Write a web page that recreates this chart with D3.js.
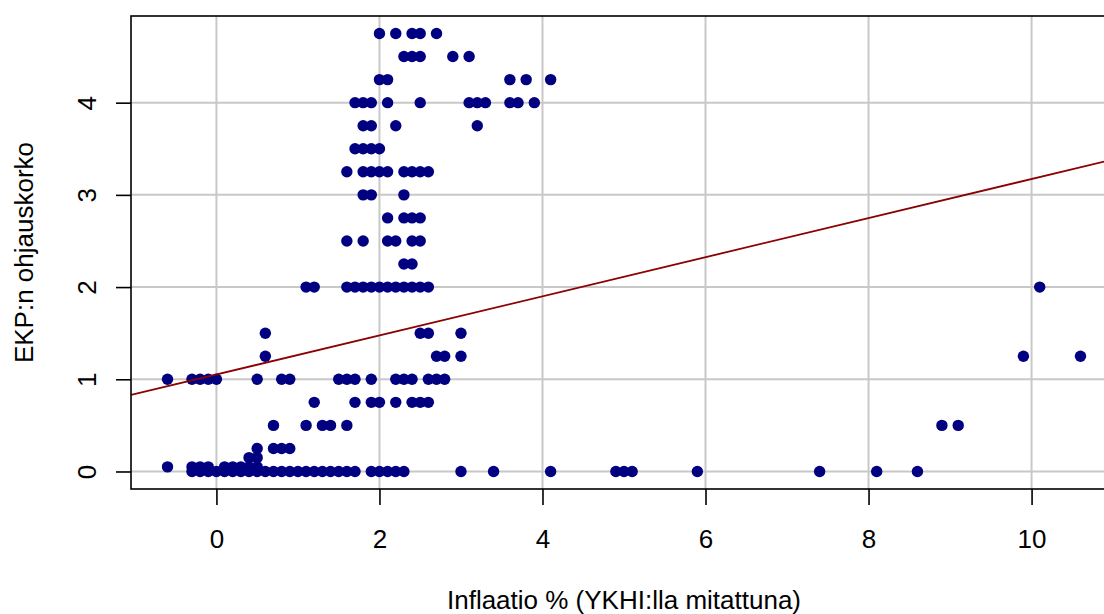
<!DOCTYPE html>
<head>
    <meta charset="utf-8">
    <script src="https://d3js.org/d3.v7.min.js"></script>
    <style>
        body { margin: 0; background: #fff; }
        text { font-family: "Liberation Sans", Arial, sans-serif; }
    </style>
</head>

<body>
    <div id="scatter"></div>
</body>

<script>
    // ECB policy rate levels and the inflation readings seen at each level
    const rateLevels = [4.75, 4.5, 4.25, 4.0, 3.75, 3.5, 3.25, 3.0, 2.75, 2.5, 2.25, 2.0,
                        1.5, 1.25, 1.0, 0.75, 0.5, 0.25, 0.15, 0.05, 0.0];
    const inflationAtLevel = [
        [2.0, 2.2, 2.4, 2.5, 2.7],
        [2.3, 2.4, 2.5, 2.9, 3.1],
        [2.0, 2.1, 3.6, 3.8, 4.1],
        [1.7, 1.8, 1.9, 2.1, 2.5, 3.1, 3.2, 3.3, 3.6, 3.7, 3.9],
        [1.8, 1.9, 2.2, 3.2],
        [1.7, 1.8, 1.9, 2.0],
        [1.6, 1.8, 1.9, 2.0, 2.1, 2.3, 2.4, 2.5, 2.6],
        [1.8, 1.9, 2.3],
        [2.1, 2.3, 2.4, 2.5],
        [1.6, 1.8, 2.1, 2.2, 2.4, 2.5],
        [2.3, 2.4],
        [1.1, 1.2, 1.6, 1.7, 1.8, 1.9, 2.0, 2.1, 2.2, 2.3, 2.4, 2.5, 2.6, 10.1],
        [0.6, 2.5, 2.6, 3.0],
        [0.6, 2.7, 2.8, 3.0, 9.9, 10.6],
        [-0.6, -0.3, -0.2, -0.1, 0.0, 0.5, 0.8, 0.9, 1.5, 1.6, 1.7, 1.9, 2.2, 2.3, 2.4, 2.6, 2.7, 2.8],
        [1.2, 1.7, 1.9, 2.0, 2.2, 2.4, 2.5, 2.6],
        [0.7, 1.1, 1.3, 1.4, 1.6, 8.9, 9.1],
        [0.5, 0.7, 0.8, 0.9],
        [0.4, 0.5],
        [-0.6, -0.3, -0.2, -0.1, 0.1, 0.2, 0.3, 0.4, 0.5],
        [-0.3, -0.2, -0.1, 0.0, 0.1, 0.2, 0.3, 0.4, 0.5, 0.6, 0.7, 0.8, 0.9, 1.0, 1.1, 1.2,
         1.3, 1.4, 1.5, 1.6, 1.7, 1.9, 2.0, 2.1, 2.2, 2.3, 3.0, 3.4, 4.1, 4.9, 5.0, 5.1,
         5.9, 7.4, 8.1, 8.6]
    ];
    const xTicks = [0, 2, 4, 6, 8, 10];
    const yTicks = [0, 1, 2, 3, 4];
    // lm fit line (abline)
    const fitIntercept = 1.052;
    const fitSlope = 0.212;

    const data = [];
    rateLevels.forEach((r, i) => {
        inflationAtLevel[i].forEach(v => data.push({inflation: v, rate: r}));
    });

    const W = 1104, H = 614;
    const plot = {left: 131, right: 1117, top: 16, bottom: 489};
    const fontSize = "26px";

    // R style 4% axis expansion
    const xExt = d3.extent(data, d => d.inflation);
    const yExt = d3.extent(data, d => d.rate);
    const xPad = (xExt[1] - xExt[0]) * 0.04, yPad = (yExt[1] - yExt[0]) * 0.04;

    const x = d3.scaleLinear()
        .domain([xExt[0] - xPad, xExt[1] + xPad])
        .range([plot.left, plot.right]);
    const y = d3.scaleLinear()
        .domain([yExt[0] - yPad, yExt[1] + yPad])
        .range([plot.bottom, plot.top]);

    const svg = d3.select("#scatter")
        .append("svg")
        .attr("width", W)
        .attr("height", H);

    svg.append("clipPath").attr("id", "clip")
        .append("rect")
        .attr("x", plot.left).attr("y", plot.top)
        .attr("width", plot.right - plot.left).attr("height", plot.bottom - plot.top);

    // Grid
    svg.append("g")
        .selectAll("line")
        .data(xTicks)
        .join("line")
        .attr("x1", d => x(d)).attr("x2", d => x(d))
        .attr("y1", plot.top).attr("y2", plot.bottom)
        .attr("stroke", "#c8c8c8").attr("stroke-width", 2);
    svg.append("g")
        .selectAll("line")
        .data(yTicks)
        .join("line")
        .attr("x1", plot.left).attr("x2", plot.right)
        .attr("y1", d => y(d)).attr("y2", d => y(d))
        .attr("stroke", "#c8c8c8").attr("stroke-width", 2);

    // Points
    svg.append("g")
        .selectAll("circle")
        .data(data)
        .join("circle")
        .attr("cx", d => x(d.inflation))
        .attr("cy", d => y(d.rate))
        .attr("r", 5.7)
        .attr("fill", "#000080");

    // Regression line
    const xd = x.domain();
    svg.append("line")
        .attr("clip-path", "url(#clip)")
        .attr("x1", x(xd[0])).attr("y1", y(fitIntercept + fitSlope * xd[0]))
        .attr("x2", x(xd[1])).attr("y2", y(fitIntercept + fitSlope * xd[1]))
        .attr("stroke", "#8b0000").attr("stroke-width", 1.8);

    // Box
    svg.append("rect")
        .attr("x", plot.left).attr("y", plot.top)
        .attr("width", plot.right - plot.left).attr("height", plot.bottom - plot.top)
        .attr("fill", "none").attr("stroke", "#000").attr("stroke-width", 1.6);

    // X axis
    const xAxis = svg.append("g")
        .attr("transform", `translate(0, ${plot.bottom})`)
        .call(d3.axisBottom(x).tickValues(xTicks).tickSize(16).tickPadding(0).tickFormat(d3.format("d")));
    xAxis.select(".domain").remove();
    xAxis.selectAll("line").attr("stroke-width", 1.6);
    xAxis.selectAll("text")
        .attr("y", 59).attr("dy", 0)
        .style("font-size", fontSize).style("font-family", "Liberation Sans, Arial, sans-serif");

    // Y axis
    const yAxis = svg.append("g")
        .attr("transform", `translate(${plot.left}, 0)`)
        .call(d3.axisLeft(y).tickValues(yTicks).tickSize(15).tickFormat(d3.format("d")));
    yAxis.select(".domain").remove();
    yAxis.selectAll("line").attr("stroke-width", 1.6);
    yAxis.selectAll("text")
        .attr("x", null).attr("dy", null)
        .attr("text-anchor", "middle")
        .attr("transform", "translate(-35,0) rotate(-90)")
        .style("font-size", fontSize).style("font-family", "Liberation Sans, Arial, sans-serif");

    // Axis titles
    svg.append("text")
        .attr("x", (plot.left + plot.right) / 2)
        .attr("y", 609)
        .attr("text-anchor", "middle")
        .style("font-size", fontSize)
        .text("Inflaatio % (YKHI:lla mitattuna)");

    svg.append("text")
        .attr("transform", `translate(33, ${(plot.top + plot.bottom) / 2}) rotate(-90)`)
        .attr("text-anchor", "middle")
        .style("font-size", fontSize)
        .text("EKP:n ohjauskorko");
</script>
</html>
